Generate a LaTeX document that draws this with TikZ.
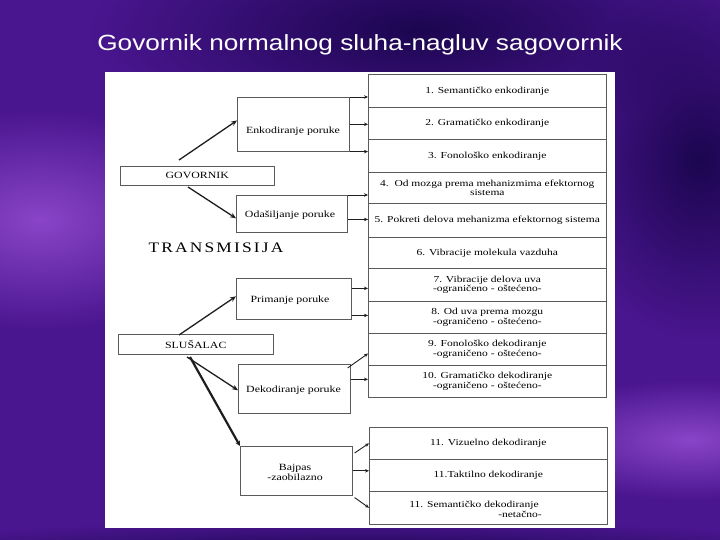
\documentclass[tikz,border=0pt]{standalone}
\usepackage{fontspec}
\setmainfont{Liberation Serif}
\newfontfamily\titlefont[FakeStretch=1.19]{Liberation Sans}
\newfontfamily\boxfont[FakeStretch=1.25]{Liberation Serif}
\newfontfamily\transfont[FakeStretch=1.2,LetterSpace=15]{Liberation Serif}
\usetikzlibrary{arrows.meta,calc,fadings}
\tikzfading[name=softspot, inner color=transparent!0, outer color=transparent!100]
\definecolor{bgbase}{HTML}{4A168F}
\definecolor{bglight}{HTML}{8A45C8}
\definecolor{bgdark}{HTML}{1C0650}
\definecolor{boxgray}{HTML}{5A5A5A}
\definecolor{linedark}{HTML}{1E1E1E}
\tikzset{
  rowbox/.style={draw=boxgray, line width=0.6pt, minimum width=238pt, inner sep=0pt,
    anchor=north west, align=center, font=\boxfont\fontsize{9.2}{9.5}\selectfont},
  midbox/.style={draw=boxgray, line width=0.6pt, inner sep=0pt, anchor=north west},
  lbl/.style={align=center, inner sep=0pt, font=\boxfont\fontsize{9.5}{10}\selectfont},
  conn/.style={draw=linedark, line width=0.9pt, -{Stealth[length=4pt,width=3.5pt]}},
  bigconn/.style={draw=linedark, line width=1.3pt, -{Stealth[length=6pt,width=5pt]}}
}
\begin{document}
\begin{tikzpicture}[x=1pt,y=-1pt]
\useasboundingbox (0,0) rectangle (720,540);
% background
\fill[bgbase] (0,0) rectangle (720,540);
\fill[bgdark, path fading=softspot] (420,30) ellipse (330 and 110);
\fill[bgdark, path fading=softspot] (700,160) ellipse (140 and 180);
\fill[bglight, path fading=softspot] (40,220) ellipse (190 and 110);
\fill[bglight, path fading=softspot] (690,440) ellipse (170 and 60);
\fill[bgdark, path fading=softspot] (360,555) ellipse (500 and 35);
% title
\node[text=white, font=\titlefont\fontsize{22}{26}\selectfont] (title) at (360,45) {Govornik normalnog sluha-nagluv sagovornik};
% white panel
\fill[white] (105,72) rectangle (615,528);
% right column
\node[rowbox, minimum height=33pt] (r1) at (368,74) {1. Semantičko enkodiranje};
\node[rowbox, minimum height=32pt] (r2) at (368,107) {2. Gramatičko enkodiranje};
\node[rowbox, minimum height=33pt] (r3) at (368,139) {3. Fonološko enkodiranje};
\node[rowbox, minimum height=31pt] (r4) at (368,172) {4.\ \ Od mozga prema mehanizmima efektornog\\sistema};
\node[rowbox, minimum height=34pt] (r5) at (368,203) {5. Pokreti delova mehanizma efektornog sistema};
\node[rowbox, minimum height=31pt] (r6) at (368,237) {6. Vibracije molekula vazduha};
\node[rowbox, minimum height=33pt] (r7) at (368,268) {7. Vibracije delova uva\\-ograničeno - oštećeno-};
\node[rowbox, minimum height=32pt] (r8) at (368,301) {8. Od uva prema mozgu\\-ograničeno - oštećeno-};
\node[rowbox, minimum height=32pt] (r9) at (368,333) {9. Fonološko dekodiranje\\-ograničeno - oštećeno-};
\node[rowbox, minimum height=32pt] (r10) at (368,365) {10. Gramatičko dekodiranje\\-ograničeno - oštećeno-};
\node[rowbox, minimum height=32pt] (r11) at (369,427) {11. Vizuelno dekodiranje};
\node[rowbox, minimum height=32pt] (r12) at (369,459) {11.Taktilno dekodiranje};
\node[rowbox, minimum height=33pt] (r13) at (369,491) {};
\node[lbl, font=\boxfont\fontsize{9.2}{9.5}\selectfont] (r13a) at (474,505) {11. Semantičko dekodiranje};
\node[lbl, font=\boxfont\fontsize{9.2}{9.5}\selectfont] (r13b) at (520,514) {-netačno-};
% middle boxes
\node[midbox, minimum width=112pt, minimum height=54pt] (enk) at (237,97) {};
\node[midbox, minimum width=111pt, minimum height=37pt] (oda) at (236,195) {};
\node[midbox, minimum width=115pt, minimum height=41pt] (pri) at (236,278) {};
\node[midbox, minimum width=112pt, minimum height=49pt] (dek) at (238,364) {};
\node[midbox, minimum width=112pt, minimum height=49pt] (baj) at (240,446) {};
\node[lbl] (enkt) at (293,131) {Enkodiranje poruke};
\node[lbl] (odat) at (290,215) {Odašiljanje poruke};
\node[lbl] (prit) at (290,300) {Primanje poruke};
\node[lbl] (dekt) at (293.5,390) {Dekodiranje poruke};
\node[lbl] (bajt) at (295,472) {Bajpas\\-zaobilazno};
% left boxes
\node[midbox, minimum width=154pt, minimum height=19pt, font=\boxfont\fontsize{9.5}{10}\selectfont] (gov) at (120,166) {GOVORNIK};
\node[midbox, minimum width=155pt, minimum height=20pt, font=\boxfont\fontsize{9.5}{10}\selectfont] (slu) at (118,334) {SLUŠALAC};
\node[inner sep=0pt, font=\transfont\fontsize{14.5}{16}\selectfont] (trans) at (216,248) {TRANSMISIJA};
% left connectors
\coordinate (g1) at (179,160);
\coordinate (g2) at (188,187);
\coordinate (s1) at (179,335);
\coordinate (s2) at (187,357);
\coordinate (s3) at (190,357);
\draw[bigconn] (g1) -- ($(enk.north west)!0.43!(enk.south west)$);
\draw[bigconn] (g2) -- ($(oda.north west)!0.62!(oda.south west)$);
\draw[bigconn] (s1) -- ($(pri.north west)!0.44!(pri.south west)$);
\draw[bigconn] (s2) -- ($(dek.north west)!0.53!(dek.south west)$);
\draw[draw=linedark, line width=2.2pt, -{Stealth[length=5pt,width=5pt]}] (s3) -- (baj.north west);
% right connectors
\draw[conn] (enk.north east) -- (enk.north east -| r1.west);
\draw[conn] (enk.east) -- (enk.east -| r2.west);
\draw[conn] (enk.south east) -- (enk.south east -| r3.west);
\draw[conn] (oda.north east) -- (oda.north east -| r4.west);
\coordinate (o2) at ($(oda.north east)!0.65!(oda.south east)$);
\draw[conn] (o2) -- (o2 -| r5.west);
\coordinate (p1) at ($(pri.north east)!0.25!(pri.south east)$);
\coordinate (p2) at ($(pri.north east)!0.9!(pri.south east)$);
\draw[conn] (p1) -- (p1 -| r7.west);
\draw[conn] (p2) -- (p2 -| r8.west);
\coordinate (d1) at ($(dek.north east)+(-3,4)$);
\draw[conn] (d1) -- ($(r9.north west)!0.63!(r9.south west)$);
\coordinate (d2) at ($(dek.north east)!0.31!(dek.south east)$);
\draw[conn] (d2) -- (d2 -| r10.west);
\coordinate (b1) at ($(baj.north east)+(2,7)$);
\coordinate (b3) at ($(baj.south east)+(2,2)$);
\draw[conn] (b1) -- ($(r11.north west)!0.5!(r11.south west)$);
\draw[conn] (baj.east) -- (baj.east -| r12.west);
\draw[conn] (b3) -- ($(r13.north west)!0.5!(r13.south west)$);
\end{tikzpicture}
\end{document}
